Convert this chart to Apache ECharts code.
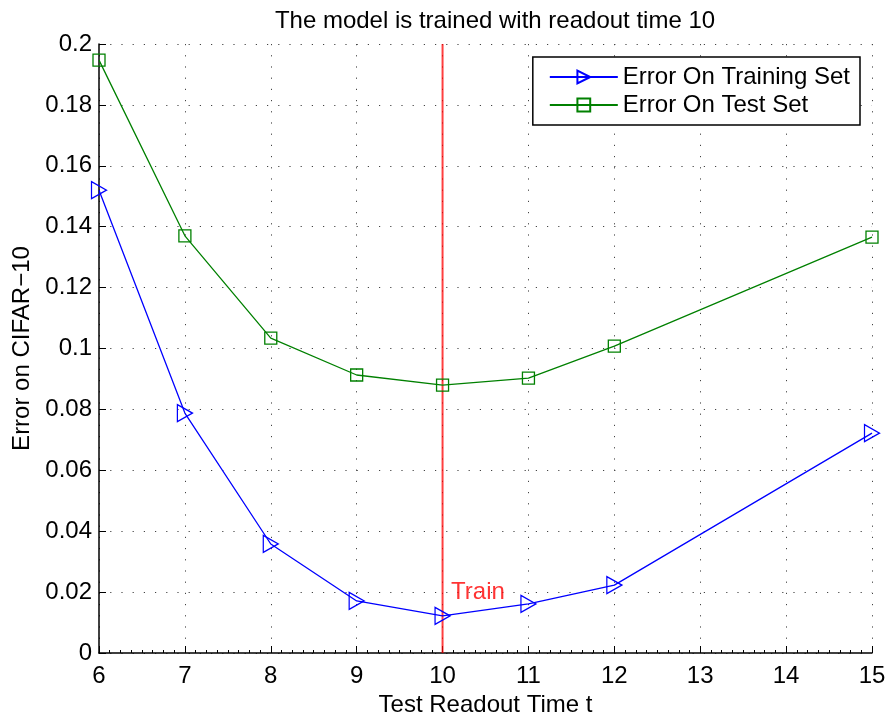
<!DOCTYPE html>
<html>
<head>
<meta charset="utf-8">
<script src="https://cdn.jsdelivr.net/npm/echarts@6/dist/echarts.min.js"></script>
<style>
html,body{margin:0;padding:0;background:#fff;}
#c{width:888px;height:715px;}
</style>
</head>
<body>
<div id="c"></div>
<script>
var readoutTimes = [6, 7, 8, 9, 10, 11, 12, 15];
var trainError = [0.152, 0.0788, 0.0358, 0.0171, 0.0122, 0.0161, 0.0223, 0.0722];
var testError = [0.1947, 0.137, 0.1034, 0.0913, 0.088, 0.0903, 0.1008, 0.1366];
var trainTime = 10;
var seriesNames = ['Error On Training Set', 'Error On Test Set'];

function pairs(xs, ys) { return xs.map(function (x, i) { return [x, ys[i]]; }); }

var FONT = 'Liberation Sans, Arial, Helvetica, sans-serif';
var chart = echarts.init(document.getElementById('c'), null, {renderer: 'canvas'});
var gridLine = {show: true, lineStyle: {color: '#444', type: [1.2, 10], width: 1}};
chart.setOption({
  animation: false,
  backgroundColor: '#fff',
  title: {
    text: 'The model is trained with readout time 10',
    left: 490, top: 4, textAlign: 'center',
    textStyle: {fontFamily: FONT, fontSize: 24, fontWeight: 'normal', color: '#000'}
  },
  grid: {left: 99, right: 16, top: 44, bottom: 62, containLabel: false, outerBoundsMode: 'none'},
  legend: {
    data: seriesNames,
    orient: 'vertical',
    right: 28, top: 57,
    backgroundColor: '#fff',
    borderColor: '#000', borderWidth: 1.5,
    padding: [8, 10, 8, 16],
    itemWidth: 68, itemHeight: 16, itemGap: 4,
    textStyle: {fontFamily: FONT, fontSize: 24, color: '#000'}
  },
  xAxis: {
    type: 'value', min: 6, max: 15, interval: 1,
    axisLine: {show: true, onZero: false, lineStyle: {color: '#000', width: 1.5}},
    axisTick: {show: true, inside: true, length: 7, lineStyle: {color: '#000'}},
    minorTick: {show: true, splitNumber: 8, length: 3, lineStyle: {color: '#000'}},
    axisLabel: {fontFamily: FONT, fontSize: 24, color: '#000', margin: 11},
    splitLine: gridLine,
    name: 'Test Readout Time t', nameLocation: 'middle', nameGap: 35,
    nameTextStyle: {fontFamily: FONT, fontSize: 24, color: '#000'}
  },
  yAxis: {
    type: 'value', min: 0, max: 0.2, interval: 0.02,
    axisLine: {show: true, onZero: false, lineStyle: {color: '#000', width: 1.5}},
    axisTick: {show: true, inside: true, length: 7, lineStyle: {color: '#000'}},
    axisLabel: {fontFamily: FONT, fontSize: 24, color: '#000', margin: 7,
      formatter: function (v) { return String(parseFloat(v.toFixed(2))); }},
    splitLine: gridLine,
    name: 'Error on CIFAR\u221210', nameLocation: 'middle', nameGap: 65,
    nameTextStyle: {fontFamily: FONT, fontSize: 24, color: '#000'}
  },
  series: [
    {
      name: seriesNames[0], type: 'line', data: pairs(readoutTimes, trainError),
      symbol: 'triangle', symbolRotate: -90, symbolSize: [17, 15],
      lineStyle: {color: '#0000ff', width: 1.3},
      itemStyle: {color: 'rgba(255,255,255,0)', borderColor: '#0000ff', borderWidth: 1.3},
      z: 5
    },
    {
      name: seriesNames[1], type: 'line', data: pairs(readoutTimes, testError),
      symbol: 'rect', symbolSize: 12,
      lineStyle: {color: '#008000', width: 1.3},
      itemStyle: {color: 'rgba(255,255,255,0)', borderColor: '#008000', borderWidth: 1.3},
      z: 5
    },
    {
      name: 'trainMarker', type: 'line', data: [[trainTime, 0], [trainTime, 0.2]],
      symbol: 'none', silent: true,
      lineStyle: {color: 'rgba(255,0,0,0.75)', width: 2},
      z: 3
    },
    {
      name: 'trainLabel', type: 'scatter', data: [[trainTime, 0.02]],
      symbolSize: 1, itemStyle: {color: 'rgba(0,0,0,0)'}, silent: true,
      label: {show: true, position: 'right', distance: 8, formatter: 'Train',
        fontFamily: FONT, fontSize: 24, color: '#ff0000'},
      z: 6
    }
  ]
});
</script>
</body>
</html>
